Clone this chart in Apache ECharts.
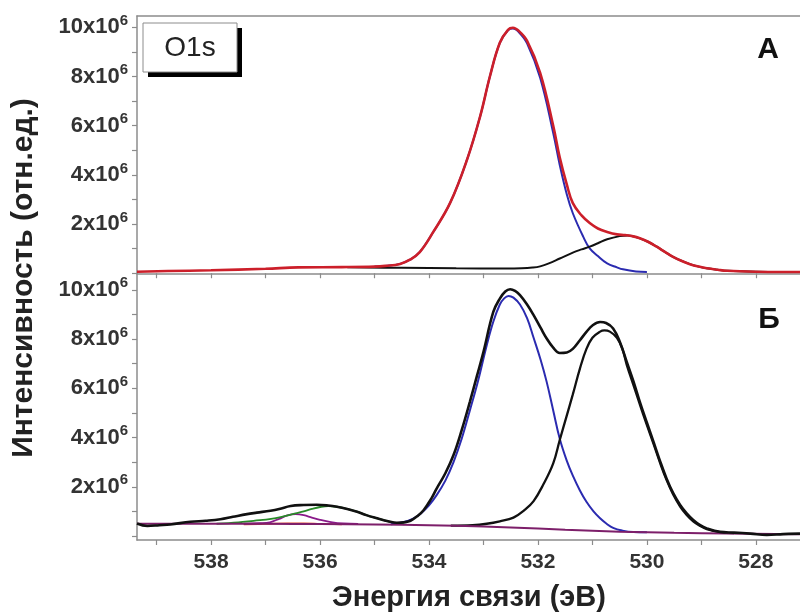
<!DOCTYPE html>
<html><head><meta charset="utf-8">
<script src="https://cdn.jsdelivr.net/npm/echarts@6/dist/echarts.min.js"></script>
<style>html,body{margin:0;padding:0;background:#fff}#c{width:800px;height:614px}</style>
</head><body><div id="c"></div>
<script>
// Binding energy (eV), intensity (x10^6)
const xTicks = [528,529,530,531,532,533,534,535,536,537,538,539];
const xLabels = [528,530,532,534,536,538];
const yTicks = [0,1,2,3,4,5,6,7,8,9,10];
const yLabels = [2,4,6,8,10];

// Panel A
const topTotal = [[539.36,0.06],[538.8,0.09],[538.0,0.12],[537.0,0.18],[536.4,0.24],[535.6,0.25],[535.0,0.27],[534.8,0.3],[534.53,0.38],[534.35,0.55],[534.17,0.86],[533.93,1.65],[533.61,2.87],[533.30,4.63],[533.06,6.39],[532.88,8.02],[532.70,9.37],[532.55,9.9],[532.46,9.98],[532.35,9.85],[532.2,9.45],[531.96,8.15],[531.72,6.0],[531.6,4.7],[531.47,3.6],[531.36,2.85],[531.2,2.35],[531.05,2.04],[530.9,1.82],[530.73,1.68],[530.55,1.58],[530.4,1.55],[530.25,1.5],[530.13,1.42],[529.98,1.28],[529.82,1.08],[529.67,0.87],[529.52,0.67],[529.36,0.5],[529.21,0.37],[529.05,0.27],[528.9,0.2],[528.7,0.14],[528.53,0.1],[528.0,0.06],[527.5,0.05],[527.19,0.05]];
const topBlue = [[535.0,0.27],[534.8,0.3],[534.53,0.38],[534.35,0.55],[534.17,0.86],[533.93,1.65],[533.61,2.87],[533.30,4.63],[533.06,6.39],[532.88,8.02],[532.70,9.37],[532.55,9.88],[532.46,9.95],[532.35,9.8],[532.2,9.35],[531.96,7.95],[531.72,5.7],[531.6,4.4],[531.47,3.2],[531.36,2.44],[531.17,1.49],[531.05,1.01],[530.9,0.7],[530.73,0.4],[530.55,0.24],[530.44,0.16],[530.2,0.07],[530.0,0.05]];
const topBlack = [[535.5,0.24],[534.5,0.22],[533.5,0.2],[532.6,0.19],[532.3,0.2],[532.1,0.23],[531.96,0.28],[531.8,0.4],[531.6,0.6],[531.36,0.84],[531.2,0.97],[531.05,1.08],[530.9,1.22],[530.73,1.38],[530.5,1.51],[530.35,1.54],[530.25,1.5],[530.13,1.42],[529.98,1.28],[529.82,1.08],[529.67,0.87],[529.52,0.67],[529.36,0.5],[529.21,0.37],[529.05,0.27],[528.9,0.2],[528.7,0.14],[528.53,0.1],[528.0,0.06],[527.5,0.05],[527.19,0.05]];

// Panel B
const botTotal = [[539.36,0.51],[539.17,0.41],[538.95,0.44],[538.75,0.47],[538.38,0.58],[538.1,0.62],[537.83,0.68],[537.6,0.78],[537.34,0.89],[537.16,0.95],[536.91,1.03],[536.75,1.1],[536.54,1.22],[536.3,1.26],[536.06,1.27],[535.85,1.24],[535.69,1.19],[535.5,1.1],[535.32,0.99],[535.15,0.85],[534.95,0.72],[534.75,0.6],[534.59,0.54],[534.45,0.56],[534.34,0.62],[534.22,0.8],[534.1,1.05],[533.95,1.55],[533.86,1.93],[533.7,2.55],[533.55,3.29],[533.4,4.3],[533.25,5.45],[533.12,6.5],[533.0,7.48],[532.82,9.1],[532.7,9.64],[532.6,9.93],[532.51,10.02],[532.42,9.95],[532.33,9.78],[532.2,9.4],[532.08,8.97],[531.95,8.45],[531.84,8.02],[531.72,7.65],[531.6,7.43],[531.47,7.45],[531.36,7.6],[531.23,7.95],[531.11,8.29],[531.0,8.55],[530.86,8.69],[530.75,8.65],[530.62,8.43],[530.5,7.9],[530.37,7.07],[530.25,6.3],[530.13,5.45],[530.0,4.6],[529.88,3.83],[529.76,3.05],[529.64,2.34],[529.52,1.75],[529.39,1.26],[529.27,0.92],[529.15,0.65],[529.03,0.45],[528.9,0.31],[528.66,0.17],[528.4,0.14],[528.1,0.1],[527.8,0.05],[527.5,0.08],[527.19,0.1]];
const botBlue = [[534.7,0.48],[534.5,0.55],[534.3,0.7],[534.15,0.92],[534.0,1.25],[533.86,1.66],[533.7,2.25],[533.55,3.0],[533.4,3.95],[533.25,5.1],[533.1,6.3],[532.94,7.75],[532.82,8.7],[532.7,9.4],[532.62,9.65],[532.54,9.75],[532.45,9.68],[532.33,9.4],[532.2,8.85],[532.08,8.05],[531.95,7.15],[531.84,6.26],[531.72,5.1],[531.6,3.95],[531.47,3.05],[531.36,2.45],[531.23,1.85],[531.11,1.39],[530.98,1.0],[530.86,0.72],[530.74,0.5],[530.62,0.33],[530.45,0.22],[530.25,0.16],[530.0,0.15]];
const botComp2 = [[533.6,0.42],[533.2,0.44],[532.94,0.5],[532.7,0.6],[532.45,0.75],[532.25,1.05],[532.08,1.42],[531.9,2.1],[531.72,2.95],[531.6,3.9],[531.47,4.9],[531.36,5.75],[531.23,6.8],[531.11,7.6],[531.0,8.05],[530.86,8.3],[530.78,8.35],[530.68,8.3],[530.55,8.05],[530.45,7.6],[530.37,6.95],[530.25,6.15],[530.13,5.35],[530.0,4.5],[529.88,3.75],[529.76,2.98],[529.64,2.28],[529.52,1.7],[529.39,1.2],[529.27,0.86],[529.15,0.6],[529.03,0.42],[528.9,0.28],[528.66,0.16],[528.4,0.12]];
const botGreen = [[537.9,0.5],[537.5,0.55],[537.22,0.62],[536.9,0.7],[536.67,0.8],[536.45,0.92],[536.3,1.0],[536.15,1.1],[536.0,1.18],[535.85,1.22],[535.69,1.19],[535.5,1.1],[535.32,0.99],[535.15,0.85],[534.95,0.72],[534.75,0.6],[534.6,0.52],[534.45,0.48]];
const botPurple = [[537.4,0.5],[537.1,0.52],[536.92,0.56],[536.75,0.7],[536.6,0.84],[536.45,0.89],[536.3,0.85],[536.15,0.75],[536.0,0.66],[535.8,0.57],[535.57,0.51],[535.3,0.49]];
const botRed = [[537.4,0.47],[537.0,0.49],[536.6,0.52],[536.3,0.52],[536.0,0.5],[535.6,0.47]];
const botBg = [[539.36,0.5],[538.5,0.5],[537.5,0.5],[536.5,0.49],[535.5,0.48],[534.5,0.46],[533.5,0.42],[532.5,0.35],[531.5,0.26],[530.5,0.18],[529.5,0.13],[528.5,0.1],[527.19,0.07]];

const FONT = 'Arial, "Liberation Sans", sans-serif';
const AX = '#8c8c8c';
const chart = echarts.init(document.getElementById('c'), null, {renderer:'canvas'});

function xAx(grid, pos, opts) {
  return Object.assign({
    type:'value', gridIndex:grid, position:pos, inverse:true, min:527.19, max:539.36,
    axisLine:{show:true, onZero:false, lineStyle:{color:AX, width:1.5}},
    axisTick:{show:true, customValues:xTicks, length:5, lineStyle:{color:AX, width:1.2}},
    axisLabel:{show:false}, splitLine:{show:false}
  }, opts||{});
}
function yAx(grid, min, max) {
  return {
    type:'value', gridIndex:grid, min:min, max:max,
    axisLine:{show:true, onZero:false, lineStyle:{color:AX, width:1.5}},
    axisTick:{show:true, customValues:yTicks, length:5, lineStyle:{color:AX, width:1.2}},
    axisLabel:{show:true, customValues:yLabels, margin:9,
      formatter: v => '{n|' + v + 'x10}{s|6}',
      rich:{
        n:{fontSize:22, fontWeight:'bold', color:'#333', fontFamily:FONT, lineHeight:28},
        s:{fontSize:15, fontWeight:'bold', color:'#333', fontFamily:FONT, lineHeight:15, verticalAlign:'top'}
      }},
    splitLine:{show:false}
  };
}
function line(data, color, w, xi, yi, z) {
  return {type:'line', data:data, xAxisIndex:xi, yAxisIndex:yi, smooth:0.4, showSymbol:false,
    lineStyle:{color:color, width:w}, z:z, silent:true};
}

chart.setOption({
  animation:false,
  backgroundColor:'#fff',
  grid:[
    {left:137, top:16, right:0, height:257.25},
    {left:137, top:273.25, right:0, bottom:74}
  ],
  xAxis:[
    xAx(0,'bottom'),
    xAx(0,'top',{axisTick:{show:false}}),
    xAx(1,'bottom',{axisLabel:{show:true, customValues:xLabels, margin:12,
      fontSize:21, fontWeight:'bold', color:'#333', fontFamily:FONT}})
  ],
  yAxis:[ yAx(0, 0, 10.46), yAx(1, -0.16, 10.67) ],
  series:[
    line(topBlue,'#2b2bb0',2,0,0,2),
    line(topBlack,'#111111',2,0,0,3),
    line(topTotal,'#cc1f2a',2.6,0,0,4),
    line(botRed,'#e0482a',1.6,2,1,2),
    line(botPurple,'#8a1a8a',1.8,2,1,2),
    line(botGreen,'#2a8a2a',1.8,2,1,2),
    line(botBlue,'#2b2bb0',2,2,1,3),
    line(botComp2,'#111111',2.3,2,1,3),
    line(botBg,'#7d1f6a',2,2,1,4),
    line(botTotal,'#111111',2.6,2,1,5)
  ],
  graphic:[
    {type:'rect', shape:{x:148, y:28, width:94, height:49}, style:{fill:'#000'}, z:10},
    {type:'rect', shape:{x:143, y:23, width:94, height:49}, style:{fill:'#fff', stroke:'#8c8c8c', lineWidth:1}, z:11},
    {type:'text', x:190, y:48, z:12, style:{text:'O1s', font:'28px '+FONT, fill:'#222', align:'center', verticalAlign:'middle'}},
    {type:'text', x:768, y:50, z:12, style:{text:'А', font:'bold 30px '+FONT, fill:'#111', align:'center', verticalAlign:'middle'}},
    {type:'text', x:769, y:320, z:12, style:{text:'Б', font:'bold 30px '+FONT, fill:'#111', align:'center', verticalAlign:'middle'}},
    {type:'text', x:24, y:278, rotation:Math.PI/2, z:12, style:{text:'Интенсивность (отн.ед.)', font:'bold 30px '+FONT, fill:'#222', align:'center', verticalAlign:'middle'}},
    {type:'text', x:469, y:598, z:12, style:{text:'Энергия связи (эВ)', font:'bold 29px '+FONT, fill:'#222', align:'center', verticalAlign:'middle'}}
  ]
});
</script></body></html>
